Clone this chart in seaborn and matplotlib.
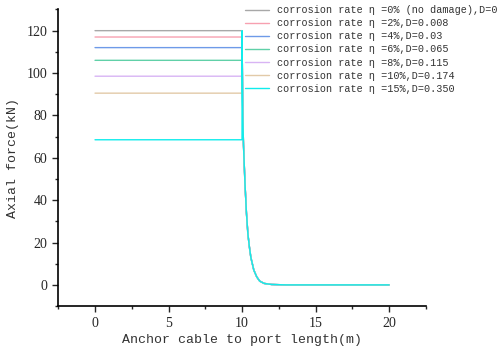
import matplotlib.pyplot as plt
import seaborn as sns
import pandas as pd
from matplotlib.ticker import MultipleLocator

sns.set_theme(style="ticks")
plt.rcParams['font.family'] = ['Liberation Mono', 'DejaVu Sans']

# series info
labels = [
    "corrosion rate η =0% (no damage),D=0",
    "corrosion rate η =2%,D=0.008",
    "corrosion rate η =4%,D=0.03",
    "corrosion rate η =6%,D=0.065",
    "corrosion rate η =8%,D=0.115",
    "corrosion rate η =10%,D=0.174",
    "corrosion rate η =15%,D=0.350",
]
plateau = [120.0, 117.0, 112.0, 106.0, 98.5, 90.5, 68.5]
colors = ['#a8a8a8', '#f7a0b0', '#6e9ae8', '#60d0a8', '#d8b4f4', '#e2caa8', '#10ecec']

# shared anchorage decay after x = 10 m
decay_x = [10.0, 10.05, 10.1, 10.2, 10.3, 10.4, 10.5, 10.6, 10.8, 11.0, 11.2, 11.5, 12.0, 13.0, 20.0]
decay_y = [120, 80, 66, 48, 34, 24, 18, 13, 7, 3.8, 1.8, 0.7, 0.2, 0, 0]

fig = plt.figure(figsize=(4.98, 3.51), dpi=100)
ax = fig.add_axes([0.117, 0.128, 0.738, 0.845])

for lab, p, c in zip(labels, plateau, colors):
    df = pd.DataFrame({'x': [0.0, 10.0] + decay_x, 'y': [p, p] + decay_y})
    sns.lineplot(data=df, x='x', y='y', ax=ax, color=c, lw=1.0, sort=False,
                 estimator=None, label=lab)

ax.set_xlim(-2.5, 22.5)
ax.set_ylim(-10, 130)
ax.xaxis.set_major_locator(MultipleLocator(5))
ax.xaxis.set_minor_locator(MultipleLocator(2.5))
ax.yaxis.set_major_locator(MultipleLocator(20))
ax.yaxis.set_minor_locator(MultipleLocator(10))
ax.tick_params(which='major', direction='out', length=4, width=1, labelsize=10, pad=4)
ax.tick_params(which='minor', direction='out', length=2.5, width=1)
for t in ax.get_xticklabels() + ax.get_yticklabels():
    t.set_family('Liberation Serif')
for s in ['top', 'right']:
    ax.spines[s].set_visible(False)
for s in ['left', 'bottom']:
    ax.spines[s].set_linewidth(1.2)
    ax.spines[s].set_color('black')

ax.set_xlabel("Anchor cable to port length(m)", fontsize=9.5, color='#333333', labelpad=3)
ax.set_ylabel("Axial force(kN)", fontsize=9.5, color='#333333', labelpad=5)

ax.legend(loc='upper left', bbox_to_anchor=(0.478, 1.005), bbox_transform=fig.transFigure,
          frameon=False, fontsize=7.3, handlelength=2.4, handletextpad=0.7,
          labelspacing=0.3, borderpad=0.2, labelcolor='#333333')

fig.savefig("out.png", dpi=100)
